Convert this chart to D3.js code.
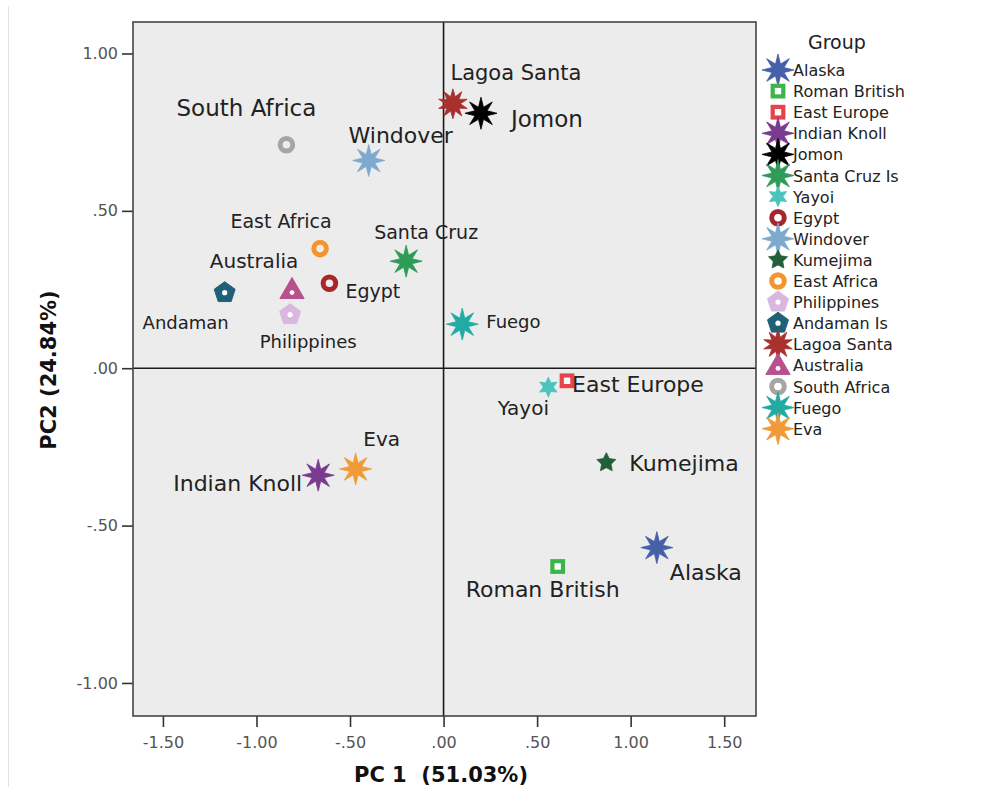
<!DOCTYPE html>
<html>
<head>
<meta charset="utf-8">
<script src="https://cdn.jsdelivr.net/npm/d3@7"></script>
<style>
  body { margin: 0; background: #fff; }
  svg { display: block; font-family: "DejaVu Sans", sans-serif; }
</style>
</head>
<body>
<svg id="chart" width="995" height="787"></svg>
<script>
// data
const groups = ["Alaska", "Roman British", "East Europe", "Indian Knoll", "Jomon", "Santa Cruz Is",
  "Yayoi", "Egypt", "Windover", "Kumejima", "East Africa", "Philippines", "Andaman Is",
  "Lagoa Santa", "Australia", "South Africa", "Fuego", "Eva"];
const plotLabels = ["Alaska", "Roman British", "East Europe", "Indian Knoll", "Jomon", "Santa Cruz",
  "Yayoi", "Egypt", "Windover", "Kumejima", "East Africa", "Philippines", "Andaman",
  "Lagoa Santa", "Australia", "South Africa", "Fuego", "Eva"];
const pc1 = [1.14, 0.61, 0.66, -0.67, 0.20, -0.20, 0.56, -0.61, -0.40, 0.87, -0.66, -0.82, -1.17,
  0.05, -0.81, -0.84, 0.10, -0.47];
const pc2 = [-0.57, -0.63, -0.04, -0.34, 0.81, 0.34, -0.06, 0.27, 0.66, -0.30, 0.38, 0.17, 0.24,
  0.84, 0.25, 0.71, 0.14, -0.32];
const xTicks = [-1.5, -1.0, -0.5, 0, 0.5, 1.0, 1.5];
const yTicks = [-1.0, -0.5, 0, 0.5, 1.0];

// styling (kept apart from the values)
const colors = ["#4560a8", "#3bb54a", "#e8424a", "#7a3b8f", "#000000", "#2e9b57", "#4cc3bd",
  "#a8262b", "#7ea9cf", "#235e3a", "#f2952d", "#d8b8de", "#1f6079", "#a8302e", "#b8508e",
  "#a5a5a5", "#22aba3", "#f09a38"];
const markers = ["star8", "square", "square", "star8", "star8", "star8", "star6", "ring", "star8",
  "star5", "ring", "pentagon", "pentagon", "star10", "triangle", "ring", "star8", "star8"];
// [anchor, dx, dy, font size] for the labels inside the plot
const labelLayout = [
  ["start", 13, 32, 22], ["middle", -15, 31, 22], ["start", 5, 11, 22], ["end", -16, 16, 22],
  ["start", 30, 14, 23], ["middle", 20, -22, 19], ["middle", -25, 28, 20], ["start", 16, 15, 19],
  ["middle", 32, -17, 22], ["start", 23, 8, 22], ["middle", -39, -21, 19], ["middle", 18, 33, 18],
  ["middle", -39, 36, 18], ["middle", 63, -24, 21], ["middle", -38, -22, 20], ["middle", -40, -29, 23],
  ["start", 24, 4, 18], ["middle", 26, -23, 20]
];

const svg = d3.select("#chart");
const plot = { left: 133, right: 756, top: 22, bottom: 716 };

const x = d3.scaleLinear().domain([-1.66, 1.67]).range([plot.left, plot.right]);
const y = d3.scaleLinear().domain([-1.105, 1.10]).range([plot.bottom, plot.top]);

// SPSS style: no leading zero, plain hyphen for negatives
const fmt = v => d3.format(".2f")(v).replace("\u2212", "-").replace(/^0\./, ".").replace(/^-0\./, "-.");

// faint page frame on the left
svg.append("line").attr("x1", 8.5).attr("x2", 8.5).attr("y1", 6).attr("y2", 787)
  .attr("stroke", "#e2e2e2").attr("stroke-width", 1);

svg.append("rect")
  .attr("x", plot.left).attr("y", plot.top)
  .attr("width", plot.right - plot.left).attr("height", plot.bottom - plot.top)
  .attr("fill", "#ececec");

// axes
const xAxis = svg.append("g")
  .attr("transform", `translate(0,${plot.bottom})`)
  .call(d3.axisBottom(x).tickValues(xTicks).tickFormat(fmt).tickSize(11).tickSizeOuter(0));
const yAxis = svg.append("g")
  .attr("transform", `translate(${plot.left},0)`)
  .call(d3.axisLeft(y).tickValues(yTicks).tickFormat(fmt).tickSize(11).tickSizeOuter(0));

[xAxis, yAxis].forEach(g => {
  g.attr("font-family", null).attr("font-size", null);
  g.select(".domain").remove();
  g.selectAll(".tick line").attr("stroke", "#333").attr("stroke-width", 1.6);
  g.selectAll(".tick text").attr("fill", "#555").style("font-size", "16px");
});
xAxis.selectAll(".tick text").attr("dy", "1.1em");
yAxis.selectAll(".tick text").attr("dx", "-1px");

// zero lines
svg.append("line").attr("x1", x(0)).attr("x2", x(0)).attr("y1", plot.top).attr("y2", plot.bottom)
  .attr("stroke", "#1a1a1a").attr("stroke-width", 1.6);
svg.append("line").attr("x1", plot.left).attr("x2", plot.right).attr("y1", y(0)).attr("y2", y(0))
  .attr("stroke", "#1a1a1a").attr("stroke-width", 1.6);

svg.append("rect")
  .attr("x", plot.left).attr("y", plot.top)
  .attr("width", plot.right - plot.left).attr("height", plot.bottom - plot.top)
  .attr("fill", "none").attr("stroke", "#444").attr("stroke-width", 1.6);

// marker drawing
function starPath(n, R, r) {
  const pts = [];
  for (let i = 0; i < n * 2; i++) {
    const a = -Math.PI / 2 + i * Math.PI / n;
    const rad = i % 2 === 0 ? R : r;
    pts.push([Math.cos(a) * rad, Math.sin(a) * rad]);
  }
  return "M" + pts.map(p => p.join(",")).join("L") + "Z";
}
function polyPath(n, R, rot) {
  const pts = d3.range(n).map(i => {
    const a = rot + i * 2 * Math.PI / n;
    return [Math.cos(a) * R, Math.sin(a) * R];
  });
  return "M" + pts.map(p => p.join(",")).join("L") + "Z";
}

function drawMarker(g, type, color) {
  if (type.startsWith("star")) {
    const n = +type.slice(4);
    let R = 16, r = 6.5;
    if (n === 6) { R = 10; r = 5; }
    if (n === 5) { R = 10; r = 5; }
    if (n === 10) { R = 15; r = 7.5; }
    g.append("path").attr("d", starPath(n, R, r)).attr("fill", color)
      .attr("stroke", color).attr("stroke-width", 0.8).attr("stroke-linejoin", "round");
  } else if (type === "ring") {
    g.append("circle").attr("r", 6.3).attr("fill", "none").attr("stroke", color).attr("stroke-width", 5);
  } else if (type === "square") {
    g.append("rect").attr("x", -5.3).attr("y", -5.3).attr("width", 10.6).attr("height", 10.6)
      .attr("fill", "#fff").attr("stroke", color).attr("stroke-width", 4.2);
  } else if (type === "pentagon") {
    g.append("path").attr("d", polyPath(5, 11, -Math.PI / 2)).attr("fill", color)
      .attr("stroke", color).attr("stroke-width", 1).attr("stroke-linejoin", "round");
    g.append("circle").attr("r", 2.6).attr("fill", "#fff");
  } else if (type === "triangle") {
    g.append("path").attr("d", polyPath(3, 14, -Math.PI / 2)).attr("fill", color)
      .attr("transform", "translate(0,2)")
      .attr("stroke", color).attr("stroke-width", 1).attr("stroke-linejoin", "round");
    g.append("circle").attr("r", 2.4).attr("cy", 3).attr("fill", "#fff");
  }
}

// points, drawn in reverse legend order
const order = d3.range(groups.length).reverse();
const pts = svg.append("g");
order.forEach(i => {
  const g = pts.append("g").attr("transform", `translate(${x(pc1[i])},${y(pc2[i])})`);
  drawMarker(g, markers[i], colors[i]);
});

// labels inside the plot
const labs = svg.append("g").attr("fill", "#222");
plotLabels.forEach((t, i) => {
  const [anchor, dx, dy, size] = labelLayout[i];
  labs.append("text")
    .attr("x", x(pc1[i]) + dx).attr("y", y(pc2[i]) + dy)
    .attr("text-anchor", anchor)
    .style("font-size", size + "px")
    .text(t);
});

// axis titles
svg.append("text")
  .attr("x", 441).attr("y", 782)
  .attr("text-anchor", "middle")
  .style("font-size", "21px").style("font-weight", "bold").attr("fill", "#111")
  .style("white-space", "pre")
  .text("PC 1  (51.03%)");
svg.append("text")
  .attr("transform", "translate(56,370) rotate(-90)")
  .attr("text-anchor", "middle")
  .style("font-size", "21px").style("font-weight", "bold").attr("fill", "#111")
  .text("PC2 (24.84%)");

// legend
const legend = svg.append("g");
legend.append("text")
  .attr("x", 808).attr("y", 49)
  .style("font-size", "19px").attr("fill", "#222")
  .text("Group");
const rowY = i => 70 + i * 21.1;
groups.forEach((t, i) => {
  legend.append("text")
    .attr("x", 793).attr("y", rowY(i) + 6)
    .style("font-size", "16px").attr("fill", "#222")
    .text(t);
});
groups.forEach((t, i) => {
  const g = legend.append("g").attr("transform", `translate(778,${rowY(i)})`);
  drawMarker(g, markers[i], colors[i]);
});
</script>
</body>
</html>
